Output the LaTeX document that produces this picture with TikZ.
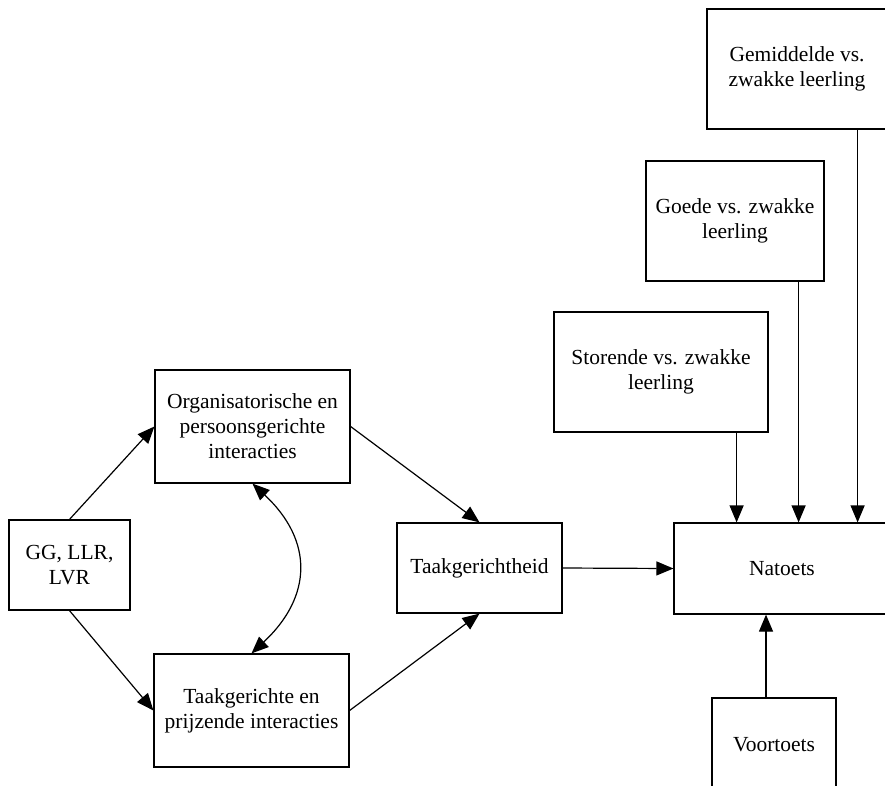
\documentclass[tikz,border=0pt]{standalone}
\usepackage{fontspec}
\setmainfont{Liberation Serif}
\usetikzlibrary{arrows.meta}
\begin{document}
\begin{tikzpicture}[x=1pt,y=-1pt,
  box/.style={draw, line width=1.2pt, inner sep=0pt, align=center,
    font=\fontsize{21.5}{25}\selectfont},
  tip/.tip={Triangle[length=17pt 0,width=14pt 0]},
  arr/.style={-tip, line width=1.2pt},
  dblarr/.style={tip-tip, line width=1.2pt}]
\useasboundingbox (0,0) rectangle (885,785);
\clip (0,0) rectangle (885,785);

% model boxes
\node[box, minimum width=121pt, minimum height=90pt] (gg) at (69.5,565) {GG, LLR,\\LVR};
\node[box, minimum width=195pt, minimum height=113pt] (org) at (252.5,426.5)
  {Organisatorische en\\persoonsgerichte\\interacties};
\node[box, minimum width=195pt, minimum height=113pt] (prijz) at (251.5,710.5)
  {Taakgerichte en\\prijzende interacties};
\node[box, minimum width=165pt, minimum height=90pt] (taak) at (479.5,568) {Taakgerichtheid};
\node[box, minimum width=216pt, minimum height=91pt] (natoets) at (782,568.5) {Natoets};
\node[box, minimum width=124pt, minimum height=94pt] (voor) at (774,745) {Voortoets};
\node[box, minimum width=180pt, minimum height=120pt] (gem) at (797,69) {Gemiddelde vs.\\zwakke leerling};
\node[box, minimum width=178pt, minimum height=120pt] (goede) at (735,221) {Goede vs. zwakke\\leerling};
\node[box, minimum width=214pt, minimum height=120pt] (stor) at (661,372) {Storende vs. zwakke\\leerling};

% connectors
\draw[arr] (gg.north) -- (org.west);
\draw[arr] (gg.south) -- (prijz.west);
\draw[arr] (org.east) -- (taak.north);
\draw[arr] (prijz.east) -- (taak.south);
\draw[dblarr] (org.south) .. controls +(61,57) and +(61,-57) .. (prijz.north);
\draw[arr] (taak.east) -- (natoets.west);
\draw[arr] ([xshift=-32pt]stor.south east) -- ([xshift=-32pt]stor.south east |- natoets.north);
\draw[arr] ([xshift=-26pt]goede.south east) -- ([xshift=-26pt]goede.south east |- natoets.north);
\draw[arr] ([xshift=-30pt]gem.south east) -- ([xshift=-30pt]gem.south east |- natoets.north);
\draw[arr] ([xshift=-8pt]voor.north) -- ([xshift=-8pt]voor.north |- natoets.south);
\end{tikzpicture}
\end{document}
